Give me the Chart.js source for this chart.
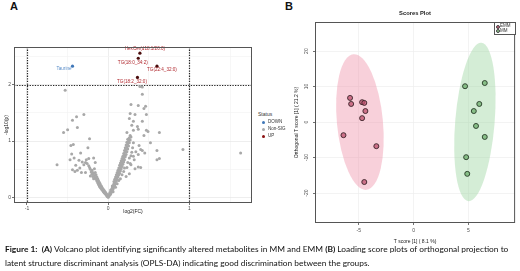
<!DOCTYPE html>
<html>
<head>
<meta charset="utf-8">
<script src="https://cdn.jsdelivr.net/npm/chart.js@4.4.0/dist/chart.umd.min.js"></script>
<style>
  body { margin: 0; background: #fff; width: 520px; height: 271px; overflow: hidden; position: relative;
         font-family: "Liberation Sans", Arial, sans-serif; }
  canvas { position: absolute; }
  #volcano { left: 0; top: 0; }
  #scores { left: 285px; top: 0; }
  .t { position: absolute; white-space: nowrap; line-height: 1; }
  .panel { font-weight: bold; font-size: 11px; color: #111; }
  .leg { font-size: 4.5px; color: #333; }
  .dot { position: absolute; width: 3px; height: 3px; border-radius: 50%; }
  #caption { position: absolute; left: 5px; top: 243px; font-family: Lato, "Open Sans", sans-serif;
             font-size: 8.35px; line-height: 13.5px; color: #111; white-space: nowrap; }
</style>
</head>
<body>
<div class="t panel" style="left:10px;top:1px">A</div>
<div class="t panel" style="left:285px;top:1px">B</div>

<canvas id="volcano" width="256" height="225"></canvas>
<canvas id="scores" width="235" height="250"></canvas>

<!-- volcano legend -->
<div class="t leg" style="left:258px;top:112px;font-size:5px">Status</div>
<div class="dot" style="left:262px;top:120.5px;background:#3f77b8"></div>
<div class="t leg" style="left:268px;top:120px">DOWN</div>
<div class="dot" style="left:262px;top:127.5px;background:#a8a8a8"></div>
<div class="t leg" style="left:268px;top:127px">Non-SIG</div>
<div class="dot" style="left:262px;top:134.5px;background:#8b1010"></div>
<div class="t leg" style="left:268px;top:134px">UP</div>

<!-- scores plot title and legend -->
<div class="t" style="left:415px;top:11px;transform:translateX(-50%);font-weight:bold;font-size:5.8px;color:#222">Scores Plot</div>
<div style="position:absolute;left:494px;top:22px;width:20px;height:11px;border:0.8px solid #555;background:#fff"></div>
<div class="dot" style="left:496px;top:24.5px;background:#c8607c;border:0.5px solid #444;width:2px;height:2px"></div>
<div class="t leg" style="left:500px;top:24px">EMM</div>
<div class="dot" style="left:496px;top:29px;background:#8fc48f;border:0.5px solid #444;width:2px;height:2px"></div>
<div class="t leg" style="left:500px;top:28.5px">MM</div>

<div id="caption"><b>Figure 1:</b>&nbsp; <b>(A)</b> Volcano plot identifying significantly altered metabolites in MM and EMM <b>(B)</b> Loading score plots of orthogonal projection to<br>latent structure discriminant analysis (OPLS-DA) indicating good discrimination between the groups.</div>

<script>
// ---------- panel A: volcano plot ----------
const fcTicks = [-1, 0, 1];
const fcGrid = [-1, -0.5, 0, 0.5, 1, 1.5];
const pTicks = [0, 1, 2];
const pGrid = [0, 0.5, 1, 1.5, 2, 2.5];
const fcCutoffs = [-1, 1];
const pCutoff = 2;

const upNames = ['HexCer(d18:1/20:0)', 'TG(18:0_34:2)', 'TG(22:4_32:0)', 'TG(18:2_32:0)'];
const upFC = [0.39, 0.37, 0.60, 0.36];
const upP = [2.56, 2.47, 2.33, 2.13];
const downNames = ['Taurine'];
const downFC = [-0.44];
const downP = [2.33];

// non significant metabolites [log2(FC), -log10(p)]
const nonSig = [
  [0.39,1.97],[0.42,1.96],[0.42,1.83],[0.28,1.65],[0.37,1.63],[0.44,1.58],[0.46,1.62],
  [0.27,1.49],[0.33,1.47],[0.47,1.47],[0.26,1.40],[0.31,1.35],[0.42,1.35],[0.29,1.28],
  [0.36,1.26],[0.37,1.21],[0.47,1.19],[0.49,1.17],[0.63,1.15],[0.31,1.19],[0.23,1.15],
  [0.44,1.10],[0.52,0.97],[0.92,0.85],[1.63,0.79],[0.60,0.83],[0.60,0.67],[0.63,0.69],
  [0.31,0.97],[0.38,0.92],[0.42,0.83],[0.34,0.81],[0.28,0.74],[0.32,0.67],[0.37,0.76],
  [0.28,0.58],[0.37,0.54],[0.33,0.51],[0.23,0.53],[0.26,0.42],[0.22,0.37],[0.40,0.53],
  [0.45,0.79],[0.40,0.85],
  [-0.53,1.90],[-0.30,1.47],[-0.39,1.43],[-0.44,1.37],[-0.50,1.20],[-0.55,1.15],[-0.38,1.24],
  [-0.23,1.04],[-0.46,0.92],[-0.43,0.94],[-0.25,0.88],[-0.34,0.79],[-0.45,0.77],[-0.47,0.67],
  [-0.42,0.70],[-0.63,0.58],[-0.44,0.49],[-0.41,0.46],[-0.32,0.63],[-0.27,0.67],[-0.28,0.62],
  [-0.24,0.69],[-0.18,0.70],[-0.16,0.62],[-0.23,0.53],[-0.28,0.44],[-0.33,0.44],[-0.19,0.44],
  [-0.22,0.38],[-0.17,0.51],
  [0.00,0.00],[0.00,0.01],[0.01,0.03],[0.01,0.05],[0.02,0.04],[0.02,0.08],[0.03,0.06],[0.03,0.10],
  [0.03,0.13],[0.04,0.09],[0.04,0.14],[0.05,0.12],[0.05,0.17],[0.05,0.20],[0.06,0.15],[0.06,0.21],
  [0.07,0.18],[0.07,0.24],[0.07,0.28],[0.08,0.22],[0.08,0.27],[0.08,0.32],[0.09,0.25],[0.09,0.31],
  [0.09,0.36],[0.10,0.29],[0.10,0.34],[0.10,0.40],[0.11,0.32],[0.11,0.38],[0.11,0.44],[0.12,0.36],
  [0.12,0.42],[0.12,0.48],[0.13,0.40],[0.13,0.46],[0.13,0.52],[0.14,0.43],[0.14,0.50],[0.14,0.57],
  [0.15,0.47],[0.15,0.54],[0.15,0.61],[0.16,0.51],[0.16,0.58],[0.16,0.65],[0.17,0.55],[0.17,0.62],
  [0.17,0.69],[0.18,0.59],[0.18,0.66],[0.18,0.73],[0.19,0.63],[0.19,0.70],[0.19,0.78],[0.20,0.67],
  [0.20,0.75],[0.20,0.83],[0.21,0.72],[0.21,0.80],[0.21,0.88],[0.22,0.76],[0.22,0.85],[0.22,0.93],
  [0.23,0.81],[0.23,0.90],[0.23,0.98],[0.24,0.86],[0.24,0.95],[0.24,1.03],[0.25,0.91],[0.25,1.00],
  [0.26,0.97],[0.26,1.06],[0.27,1.02],[0.27,1.10],[0.28,1.07],
  [0.06,0.10],[0.09,0.18],[0.11,0.24],[0.13,0.30],[0.15,0.33],[0.17,0.40],[0.19,0.46],[0.20,0.52],
  [0.24,0.62],[0.26,0.70],[0.29,0.80],[0.30,0.88],[0.27,0.60],[0.31,0.73],
  [-0.01,0.01],[-0.01,0.03],[-0.02,0.03],[-0.02,0.06],[-0.03,0.05],[-0.03,0.08],[-0.04,0.07],
  [-0.04,0.10],[-0.05,0.08],[-0.05,0.12],[-0.06,0.10],[-0.06,0.14],[-0.07,0.12],[-0.07,0.16],
  [-0.08,0.14],[-0.08,0.19],[-0.09,0.16],[-0.09,0.21],[-0.10,0.18],[-0.10,0.24],[-0.11,0.20],
  [-0.11,0.27],[-0.12,0.23],[-0.12,0.30],[-0.13,0.26],[-0.13,0.33],[-0.14,0.29],[-0.14,0.36],
  [-0.15,0.32],[-0.15,0.40],[-0.16,0.35],[-0.16,0.44],[-0.17,0.38],[-0.18,0.33],[-0.18,0.42],
  [-0.19,0.37],[-0.20,0.41],[-0.20,0.48],[-0.21,0.45],[-0.22,0.50],[-0.24,0.56],[-0.26,0.60],
  [-0.30,0.58],[-0.35,0.52],[-0.40,0.57],[-0.36,0.66],[-0.38,0.48]
];

// ---------- panel B: OPLS-DA scores ----------
const tTicks = [-5, 0, 5];
const oTicks = [-20, -10, 0, 10, 20];
const groups = ['EMM', 'MM'];
const emmT = [-5.8, -5.7, -4.7, -4.5, -4.4, -4.7, -6.4, -3.4, -4.5];
const emmO = [6.8, 5.1, 5.6, 5.4, 3.1, 1.1, -3.7, -6.8, -16.9];
const mmT = [4.7, 6.5, 6.0, 5.5, 5.7, 6.5, 4.8, 4.9];
const mmO = [10.1, 11.0, 5.1, 3.1, -1.1, -4.2, -9.9, -14.6];
// 95% ellipses: centre and half axes in score units
const ellT = [-4.9, 5.6];
const ellO = [0, 0];
const ellHalfT = [2.1, 1.8];
const ellHalfO = [19.2, 22.4];

// styles
const ellFill = ['rgba(240,150,172,0.45)', 'rgba(160,215,165,0.45)'];
const ellTilt = [-5.5, 4.7]; // degrees on screen
const labelOffsets = [[5, -4], [-5.5, 4], [5, 3.5], [-5.5, 4]];
const taurineOffset = [-8.5, 3];

Chart.defaults.font.family = '"Liberation Sans", Arial, sans-serif';
Chart.defaults.color = '#4d4d4d';

const tickFont = { size: 5 };
const titleFont = { size: 5 };

const frame = {
  id: 'frame',
  afterDraw(chart) {
    const { ctx, chartArea: a } = chart;
    ctx.save();
    ctx.strokeStyle = '#555';
    ctx.lineWidth = 1;
    ctx.strokeRect(a.left + 0.5, a.top + 0.5, a.right - a.left - 1, a.bottom - a.top - 1);
    ctx.restore();
  }
};

const volcanoExtras = {
  id: 'volcanoExtras',
  beforeDatasetsDraw(chart) {
    const { ctx, chartArea: a, scales: { x, y } } = chart;
    ctx.save();
    ctx.strokeStyle = '#222';
    ctx.lineWidth = 1.2;
    ctx.setLineDash([1.3, 1.3]);
    fcCutoffs.forEach(v => {
      const px = Math.round(x.getPixelForValue(v)) + 0.5;
      ctx.beginPath(); ctx.moveTo(px, a.top); ctx.lineTo(px, a.bottom); ctx.stroke();
    });
    const py = Math.round(y.getPixelForValue(pCutoff)) + 0.5;
    ctx.beginPath(); ctx.moveTo(a.left, py); ctx.lineTo(a.right, py); ctx.stroke();
    ctx.restore();
  },
  afterDatasetsDraw(chart) {
    const { ctx, scales: { x, y } } = chart;
    ctx.save();
    ctx.font = '4.6px "Liberation Sans", Arial, sans-serif';
    ctx.textAlign = 'center';
    ctx.textBaseline = 'middle';
    ctx.fillStyle = '#b0282e';
    upNames.forEach((n, i) => {
      ctx.fillText(n, x.getPixelForValue(upFC[i]) + labelOffsets[i][0], y.getPixelForValue(upP[i]) + labelOffsets[i][1]);
    });
    ctx.fillStyle = '#5b8ec9';
    downNames.forEach((n, i) => {
      ctx.fillText(n, x.getPixelForValue(downFC[i]) + taurineOffset[0], y.getPixelForValue(downP[i]) + taurineOffset[1]);
    });
    ctx.restore();
  }
};

new Chart(document.getElementById('volcano'), {
  type: 'scatter',
  data: {
    datasets: [
      { label: 'UP', data: upFC.map((v, i) => ({ x: v, y: upP[i] })),
        pointRadius: 1.6, backgroundColor: '#4a0c0c', borderWidth: 0 },
      { label: 'DOWN', data: downFC.map((v, i) => ({ x: v, y: downP[i] })),
        pointRadius: 1.6, backgroundColor: '#3f77b8', borderWidth: 0 },
      { label: 'Non-SIG', data: nonSig.map(p => ({ x: p[0], y: p[1] })),
        pointRadius: 1.5, backgroundColor: '#a8a8a8', borderWidth: 0 }
    ]
  },
  options: {
    responsive: false,
    animation: false,
    events: [],
    layout: { padding: { left: 0, right: 3, top: 47, bottom: 4 } },
    plugins: { legend: { display: false }, tooltip: { enabled: false } },
    scales: {
      x: {
        type: 'linear', min: -1.16, max: 1.77,
        afterBuildTicks: s => { s.ticks = fcGrid.map(v => ({ value: v })); },
        afterFit: s => { s.height = 18; },
        ticks: { autoSkip: false, maxRotation: 0, font: tickFont, padding: 1,
                 callback: v => fcTicks.includes(v) ? String(v) : '' },
        grid: { color: c => fcTicks.includes(c.tick && c.tick.value) ? '#e6e6e6' : '#f3f3f3',
                tickColor: c => fcTicks.includes(c.tick && c.tick.value) ? '#333' : 'rgba(0,0,0,0)',
                tickLength: 2, lineWidth: 0.7 },
        border: { display: false },
        title: { display: true, text: 'log2(FC)', font: titleFont, color: '#222', padding: { top: 0, bottom: 6 } }
      },
      y: {
        type: 'linear', min: -0.1, max: 2.67,
        afterBuildTicks: s => { s.ticks = pGrid.map(v => ({ value: v })); },
        afterFit: s => { s.width = 14; },
        ticks: { autoSkip: false, font: tickFont, padding: 1,
                 callback: v => pTicks.includes(v) ? String(v) : '' },
        grid: { color: c => pTicks.includes(c.tick && c.tick.value) ? '#e6e6e6' : '#f3f3f3',
                tickColor: c => pTicks.includes(c.tick && c.tick.value) ? '#333' : 'rgba(0,0,0,0)',
                tickLength: 2, lineWidth: 0.7 },
        border: { display: false },
        title: { display: true, text: '-log10(p)', font: titleFont, color: '#222', padding: { top: 4, bottom: 0 } }
      }
    }
  },
  plugins: [volcanoExtras, frame]
});

const scoresExtras = {
  id: 'scoresExtras',
  beforeDatasetsDraw(chart) {
    const { ctx, chartArea: a, scales: { x, y } } = chart;
    ctx.save();
    ctx.beginPath();
    ctx.rect(a.left, a.top, a.right - a.left, a.bottom - a.top);
    ctx.clip();
    groups.forEach((g, i) => {
      const cx = x.getPixelForValue(ellT[i]);
      const cy = y.getPixelForValue(ellO[i]);
      const rx = Math.abs(x.getPixelForValue(ellT[i] + ellHalfT[i]) - cx);
      const ry = Math.abs(y.getPixelForValue(ellO[i] + ellHalfO[i]) - cy);
      ctx.beginPath();
      ctx.ellipse(cx, cy, rx, ry, ellTilt[i] * Math.PI / 180, 0, Math.PI * 2);
      ctx.fillStyle = ellFill[i];
      ctx.fill();
    });
    ctx.restore();
  },
  afterDraw(chart) {
    const { ctx, chartArea: a, scales: { y } } = chart;
    ctx.save();
    ctx.font = '5px "Liberation Sans", Arial, sans-serif';
    ctx.fillStyle = '#4d4d4d';
    ctx.textAlign = 'center';
    ctx.textBaseline = 'middle';
    oTicks.forEach(v => {
      ctx.save();
      ctx.translate(a.left - 8, y.getPixelForValue(v));
      ctx.rotate(-Math.PI / 2);
      ctx.fillText(String(v), 0, 0);
      ctx.restore();
    });
    ctx.restore();
  }
};

new Chart(document.getElementById('scores'), {
  type: 'scatter',
  data: {
    datasets: [
      { label: groups[0], data: emmT.map((v, i) => ({ x: v, y: emmO[i] })),
        pointRadius: 2.5, backgroundColor: 'rgba(190,80,110,0.75)', borderColor: '#3a2228', borderWidth: 0.9 },
      { label: groups[1], data: mmT.map((v, i) => ({ x: v, y: mmO[i] })),
        pointRadius: 2.5, backgroundColor: 'rgba(110,175,110,0.75)', borderColor: '#263a26', borderWidth: 0.9 }
    ]
  },
  options: {
    responsive: false,
    animation: false,
    events: [],
    layout: { padding: { left: 0, right: 4, top: 22, bottom: 3 } },
    plugins: { legend: { display: false }, tooltip: { enabled: false } },
    scales: {
      x: {
        type: 'linear', min: -9, max: 9.27,
        afterBuildTicks: s => { s.ticks = tTicks.map(v => ({ value: v })); },
        afterFit: s => { s.height = 24; },
        ticks: { autoSkip: false, maxRotation: 0, font: tickFont, padding: 3 },
        grid: { color: '#eeeeee', tickColor: '#333', tickLength: 2, lineWidth: 0.7 },
        border: { display: false },
        title: { display: true, text: 'T score [1] ( 8.1 %)', font: titleFont, color: '#222', padding: { top: 0, bottom: 2 } }
      },
      y: {
        type: 'linear', min: -28.45, max: 28.2,
        afterBuildTicks: s => { s.ticks = oTicks.map(v => ({ value: v })); },
        afterFit: s => { s.width = 30; },
        ticks: { display: false },
        grid: { color: '#eeeeee', tickColor: '#333', tickLength: 2, lineWidth: 0.7 },
        border: { display: false },
        title: { display: true, text: 'Orthogonal T score [1] ( 21.2 %)', font: titleFont, color: '#222', padding: { top: 9, bottom: 0 } }
      }
    }
  },
  plugins: [scoresExtras, frame]
});
</script>
</body>
</html>
